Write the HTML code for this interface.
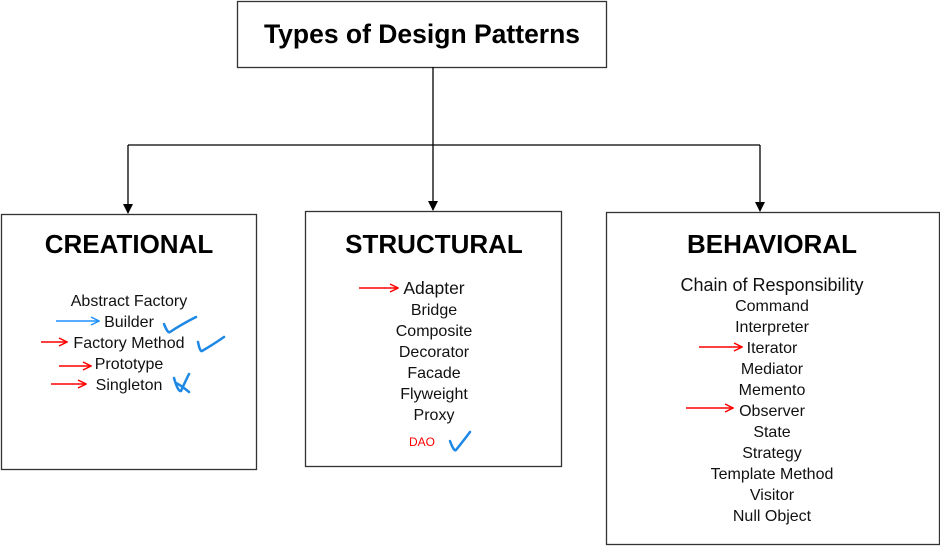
<!DOCTYPE html>
<html><head><meta charset="utf-8"><style>
html,body{margin:0;padding:0;background:#fff;}
svg{display:block;font-family:"Liberation Sans",Arial,sans-serif;}
</style></head><body>
<svg width="940" height="560" viewBox="0 0 940 560" xmlns="http://www.w3.org/2000/svg">
<defs>
<marker id="a" markerWidth="10" markerHeight="10" refX="9" refY="5" orient="auto" markerUnits="userSpaceOnUse"><path d="M0,0 L10,5 L0,10 Z" fill="#000"/></marker>
<marker id="r" markerWidth="10" markerHeight="10" refX="9" refY="5" orient="auto" markerUnits="userSpaceOnUse"><path d="M1,1 L9,5 L1,9" fill="none" stroke="#f00" stroke-width="1.5"/></marker>
<marker id="b" markerWidth="10" markerHeight="10" refX="9" refY="5" orient="auto" markerUnits="userSpaceOnUse"><path d="M1,1 L9,5 L1,9" fill="none" stroke="#1e90ff" stroke-width="1.5"/></marker>
</defs>
<g fill="none" stroke="#333" stroke-width="1.3">
<rect x="237.5" y="1.5" width="369" height="66"/>
<rect x="1.5" y="214.5" width="255" height="255"/>
<rect x="305.5" y="211.5" width="256" height="255"/>
<rect x="606.5" y="212.5" width="333" height="332"/>
</g>
<g stroke="#000" stroke-width="1.3" fill="none">
<line x1="433" y1="67" x2="433" y2="145"/>
<line x1="128" y1="145" x2="760" y2="145"/>
<line x1="128" y1="145" x2="128" y2="213" marker-end="url(#a)"/>
<line x1="433" y1="145" x2="433" y2="210" marker-end="url(#a)"/>
<line x1="760" y1="145" x2="760" y2="211" marker-end="url(#a)"/>
</g>
<g text-anchor="middle" font-weight="bold" fill="#000">
<text x="422" y="43" font-size="26.5">Types of Design Patterns</text>
<text x="129" y="253" font-size="26">CREATIONAL</text>
<text x="434" y="253" font-size="26">STRUCTURAL</text>
<text x="772" y="253" font-size="26">BEHAVIORAL</text>
</g>
<g text-anchor="middle" fill="#111" font-size="16">
<text x="129" y="306">Abstract Factory</text>
<text x="129" y="327">Builder</text>
<text x="129" y="348">Factory Method</text>
<text x="129" y="369">Prototype</text>
<text x="129" y="390">Singleton</text>

<text x="434" y="294" font-size="17.5">Adapter</text>
<text x="434" y="315">Bridge</text>
<text x="434" y="336">Composite</text>
<text x="434" y="357">Decorator</text>
<text x="434" y="378">Facade</text>
<text x="434" y="399">Flyweight</text>
<text x="434" y="420">Proxy</text>
<text x="422" y="446" font-size="12" fill="#f00">DAO</text>

<text x="772" y="291" font-size="18">Chain of Responsibility</text>
<text x="772" y="311">Command</text>
<text x="772" y="332">Interpreter</text>
<text x="772" y="353">Iterator</text>
<text x="772" y="374">Mediator</text>
<text x="772" y="395">Memento</text>
<text x="772" y="416">Observer</text>
<text x="772" y="437">State</text>
<text x="772" y="458">Strategy</text>
<text x="772" y="479">Template Method</text>
<text x="772" y="500">Visitor</text>
<text x="772" y="521">Null Object</text>
</g>
<g fill="none" stroke-width="1.5">
<line x1="56" y1="321" x2="99" y2="321" stroke="#1e90ff" marker-end="url(#b)"/>
<line x1="41" y1="342" x2="67" y2="342" stroke="#f00" marker-end="url(#r)"/>
<line x1="59" y1="366" x2="91" y2="366" stroke="#f00" marker-end="url(#r)"/>
<line x1="51" y1="384" x2="86" y2="384" stroke="#f00" marker-end="url(#r)"/>
<line x1="359" y1="288" x2="398" y2="288" stroke="#f00" marker-end="url(#r)"/>
<line x1="699" y1="347" x2="742" y2="347" stroke="#f00" marker-end="url(#r)"/>
<line x1="686" y1="408" x2="733" y2="408" stroke="#f00" marker-end="url(#r)"/>
</g>
<g fill="none" stroke="#1e88e5" stroke-width="2.5" stroke-linecap="round">
<path d="M164,324 Q168,334 170,332 Q182,324 196,317"/>
<path d="M198,342 Q200,352 202,351 Q214,344 224,337"/>
<path d="M174,378 Q178,392 181,391 Q185,382 189,374 M176,383 Q182,386 189,392"/>
<path d="M450,441 Q454,452 456,450 Q464,440 470,432"/>
</g>
</svg>
</body></html>
